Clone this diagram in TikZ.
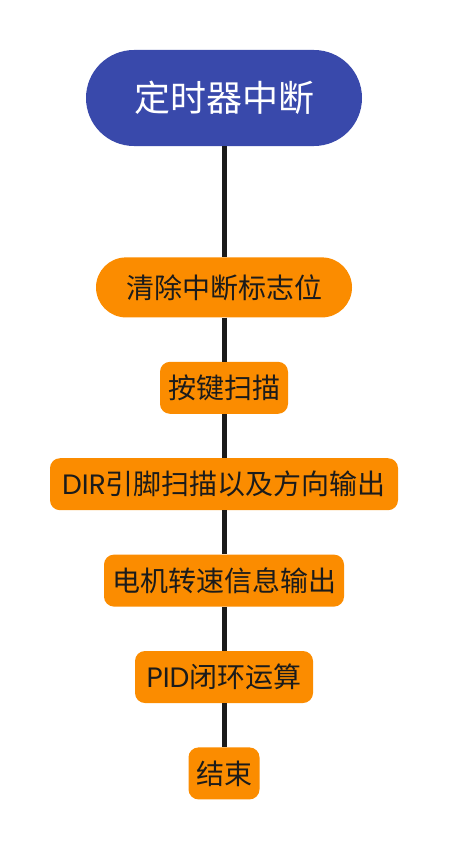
\documentclass[tikz,border=0pt]{standalone}
\usepackage{fontspec}
\setmainfont{Noto Sans CJK SC}
\newfontfamily\pop{Poppins}
\usetikzlibrary{positioning}
\definecolor{rootblue}{RGB}{57,73,171}
\definecolor{boxorange}{RGB}{251,140,0}
\definecolor{inkdark}{RGB}{27,27,27}
\tikzset{
  rootbox/.style={draw=none,fill=rootblue,text=white,rounded corners=48pt,
    minimum width=276pt,minimum height=96pt,inner sep=0pt,
    font=\fontsize{36pt}{42pt}\selectfont},
  stepbox/.style={draw=none,fill=boxorange,text=inkdark,rounded corners=10pt,
    minimum height=52pt,inner sep=0pt,font=\fontsize{28pt}{34pt}\selectfont},
  link/.style={draw=inkdark,line width=5pt}
}
\begin{document}
\begin{tikzpicture}
    \useasboundingbox (0,0) rectangle (448pt,-848pt);
    %起始节点
    \node[rootbox] (root) at (224pt,-98pt) {定时器中断};
    %各个步骤
    \node[stepbox,rounded corners=30pt,minimum width=256pt,minimum height=60pt,
      below=111pt of root] (clear) {清除中断标志位};
    \node[stepbox,minimum width=128pt,below=44pt of clear] (keys) {按键扫描};
    \node[stepbox,minimum width=348pt,below=44pt of keys] (dir) {{\pop DIR}引脚扫描以及方向输出};
    \node[stepbox,minimum width=240pt,below=44pt of dir] (motor) {电机转速信息输出};
    \node[stepbox,minimum width=178pt,below=44pt of motor] (pid) {{\pop PID}闭环运算};
    \node[stepbox,minimum width=71pt,below=44pt of pid] (finish) {结束};
    %连线
    \draw[link] (root) -- (clear);
    \draw[link] (clear) -- (keys);
    \draw[link] (keys) -- (dir);
    \draw[link] (dir) -- (motor);
    \draw[link] (motor) -- (pid);
    \draw[link] (pid) -- (finish);
\end{tikzpicture}
\end{document}
